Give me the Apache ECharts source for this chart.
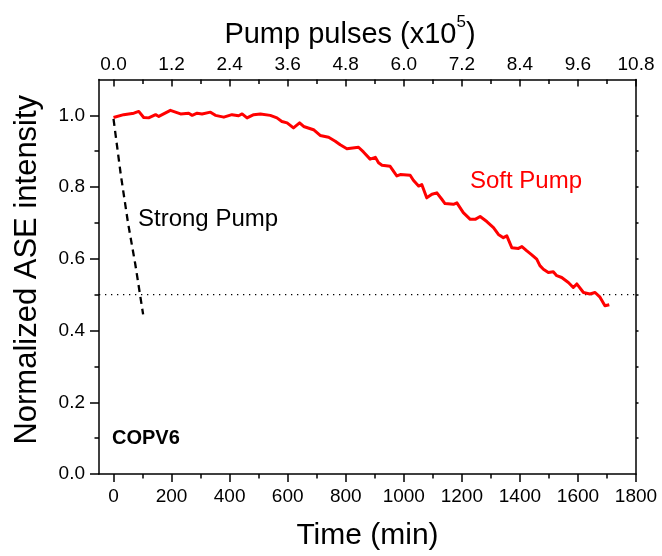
<!DOCTYPE html>
<html>
<head>
<meta charset="utf-8">
<script src="https://cdn.jsdelivr.net/npm/echarts@6/dist/echarts.min.js"></script>
<style>html,body{margin:0;padding:0;background:#fff}#c{width:662px;height:556px}</style>
</head>
<body>
<div id="c"></div>
<script>
// ---- data ----
var timeTicks = [0, 200, 400, 600, 800, 1000, 1200, 1400, 1600, 1800];
var timeMinor = [100, 300, 500, 700, 900, 1100, 1300, 1500, 1700];
var pulseTicks = [0, 1.2, 2.4, 3.6, 4.8, 6.0, 7.2, 8.4, 9.6, 10.8];
var pulseMinor = [0.6, 1.8, 3.0, 4.2, 5.4, 6.6, 7.8, 9.0, 10.2];
var yTicks = [0, 0.2, 0.4, 0.6, 0.8, 1.0];
var yMinor = [0.1, 0.3, 0.5, 0.7, 0.9];
var yAll = [0.1, 0.2, 0.3, 0.4, 0.5, 0.6, 0.7, 0.8, 0.9, 1.0];

var softT = [0,35,70,87,104,121,145,156,196,231,259,271,288,305,334,351,380,408,431,443,460,483,506,540,563,580,598,620,641,655,689,712,741,764,781,804,844,861,884,902,913,925,953,965,976,988,1022,1033,1051,1062,1079,1097,1114,1131,1142,1171,1183,1205,1229,1246,1263,1286,1309,1326,1343,1355,1372,1395,1407,1424,1441,1458,1469,1481,1498,1515,1527,1544,1567,1584,1596,1619,1641,1659,1676,1693,1708];
var softV = [0.994,1.002,1.006,1.011,0.994,0.993,1.002,0.997,1.014,1.004,1.006,1.000,1.006,1.004,1.009,1.000,0.995,1.002,0.999,1.004,0.993,1.002,1.004,1.000,0.993,0.983,0.979,0.965,0.979,0.969,0.960,0.944,0.939,0.928,0.918,0.907,0.911,0.898,0.878,0.883,0.868,0.861,0.858,0.844,0.831,0.835,0.833,0.819,0.803,0.807,0.770,0.780,0.784,0.766,0.754,0.752,0.756,0.729,0.710,0.710,0.718,0.704,0.687,0.668,0.659,0.664,0.631,0.629,0.634,0.622,0.611,0.599,0.581,0.571,0.562,0.564,0.553,0.548,0.534,0.520,0.530,0.506,0.502,0.506,0.493,0.469,0.472];

var strongT = [0, 25, 50, 75, 102];
var strongV = [0.99, 0.835, 0.70, 0.585, 0.445];

var refT = [-50, 1800];
var refV = [0.5, 0.5];

var xMin = -50, xMax = 1800;
var pMin = -0.3, pMax = 10.8;
var yMin = 0, yMax = 1.1;

// ---- chart ----
var FONT = "'Liberation Sans', Arial, sans-serif";
var black = '#000';
function zip(a, b) { return a.map(function (v, i) { return [v, b[i]]; }); }

var chart = echarts.init(document.getElementById('c'));
var lineSt = { color: black, width: 1.5 };
chart.setOption({
  animation: false,
  backgroundColor: '#fff',
  grid: { left: 99, right: 26, top: 79.5, bottom: 82, containLabel: false },
  xAxis: [
    {
      type: 'value', position: 'bottom', min: xMin, max: xMax,
      axisLine: { show: true, onZero: false, lineStyle: lineSt },
      axisTick: { show: true, inside: false, length: 8, lineStyle: lineSt, customValues: timeTicks },
      axisLabel: { show: true, margin: 13, color: black, fontFamily: FONT, fontSize: 19, customValues: timeTicks,
        formatter: function (v) { return String(v); } },
      splitLine: { show: false },
      name: 'Time (min)', nameLocation: 'middle', nameGap: 47,
      nameTextStyle: { color: black, fontFamily: FONT, fontSize: 30 }
    },
    {
      type: 'value', position: 'bottom', min: xMin, max: xMax,
      axisLine: { show: false, onZero: false },
      axisTick: { show: true, inside: false, length: 4.5, lineStyle: lineSt, customValues: timeMinor },
      axisLabel: { show: false }, splitLine: { show: false }
    },
    {
      type: 'value', position: 'top', min: pMin, max: pMax,
      axisLine: { show: true, onZero: false, lineStyle: lineSt },
      axisTick: { show: true, inside: true, length: 7, lineStyle: lineSt, customValues: pulseTicks },
      axisLabel: { show: true, margin: 5, color: black, fontFamily: FONT, fontSize: 19, customValues: pulseTicks,
        formatter: function (v) { return v.toFixed(1); } },
      splitLine: { show: false },
      name: '{a|Pump pulses (x10}{s|5}{a|)}', nameLocation: 'middle', nameGap: 30,
      nameTextStyle: {
        color: black, fontFamily: FONT, fontSize: 29, padding: [0, 35, 0, 0],
        rich: {
          a: { fontFamily: FONT, fontSize: 29, color: black, verticalAlign: 'bottom', lineHeight: 36 },
          s: { fontFamily: FONT, fontSize: 17, color: black, verticalAlign: 'top', lineHeight: 36 }
        }
      }
    },
    {
      type: 'value', position: 'top', min: pMin, max: pMax,
      axisLine: { show: false, onZero: false },
      axisTick: { show: true, inside: true, length: 4.5, lineStyle: lineSt, customValues: pulseMinor },
      axisLabel: { show: false }, splitLine: { show: false }
    }
  ],
  yAxis: [
    {
      type: 'value', position: 'left', min: yMin, max: yMax,
      axisLine: { show: true, onZero: false, lineStyle: lineSt },
      axisTick: { show: true, inside: false, length: 9, lineStyle: lineSt, customValues: yTicks },
      axisLabel: { show: true, margin: 14, color: black, fontFamily: FONT, fontSize: 19, customValues: yTicks,
        formatter: function (v) { return v.toFixed(1); } },
      splitLine: { show: false },
      name: 'Normalized ASE intensity', nameLocation: 'middle', nameGap: 56,
      nameTextStyle: { color: black, fontFamily: FONT, fontSize: 31, padding: [0, 0, 0, 14] }
    },
    {
      type: 'value', position: 'left', min: yMin, max: yMax,
      axisLine: { show: false, onZero: false },
      axisTick: { show: true, inside: false, length: 4.5, lineStyle: lineSt, customValues: yMinor },
      axisLabel: { show: false }, splitLine: { show: false }
    },
    {
      type: 'value', position: 'right', min: yMin, max: yMax,
      axisLine: { show: true, onZero: false, lineStyle: lineSt },
      axisTick: { show: true, inside: false, length: 2.5, lineStyle: lineSt, customValues: yAll },
      axisLabel: { show: false }, splitLine: { show: false }
    }
  ],
  series: [
    {
      type: 'line', name: 'ref', xAxisIndex: 0, yAxisIndex: 0, data: zip(refT, refV),
      symbol: 'none', silent: true,
      lineStyle: { color: black, width: 1.3, type: [1.3, 4.7] }
    },
    {
      type: 'line', name: 'Strong Pump', xAxisIndex: 0, yAxisIndex: 0, data: zip(strongT, strongV),
      symbol: 'none', smooth: false,
      lineStyle: { color: black, width: 2.3, type: [7, 5] }
    },
    {
      type: 'line', name: 'Soft Pump', xAxisIndex: 0, yAxisIndex: 0, data: zip(softT, softV),
      symbol: 'none', smooth: false,
      lineStyle: { color: '#ff0000', width: 3, join: 'round' }
    }
  ],
  graphic: [
    { type: 'text', left: 138, top: 207, style: { text: 'Strong Pump', font: '24px ' + FONT, fill: black } },
    { type: 'text', left: 470, top: 169, style: { text: 'Soft Pump', font: '24px ' + FONT, fill: '#ff0000' } },
    { type: 'text', left: 112, top: 428, style: { text: 'COPV6', font: 'bold 20px ' + FONT, fill: black } }
  ]
});
</script>
</body>
</html>
